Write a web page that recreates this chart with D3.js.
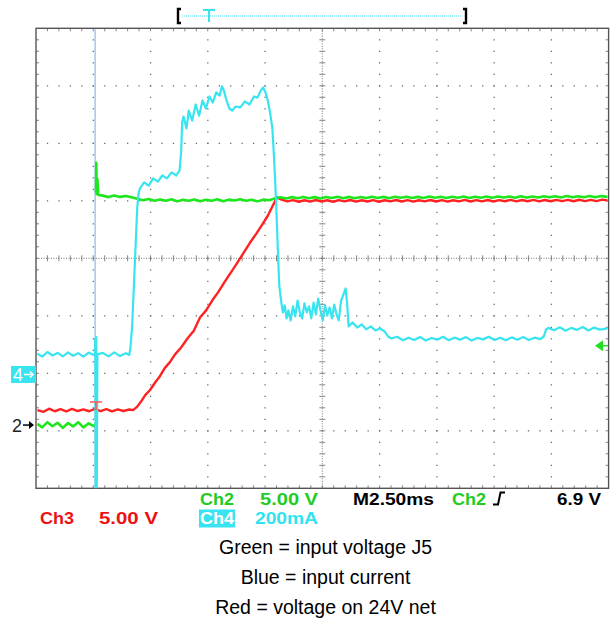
<!DOCTYPE html>
<html><head><meta charset="utf-8">
<script src="https://cdn.jsdelivr.net/npm/d3@7"></script>
<style>body{margin:0;background:#fff}svg{display:block}</style>
</head><body>
<svg id="c" width="613" height="623"></svg>
<script>
// ---------- data ----------
// time in ms relative to trigger; 2.5 ms/div
const msPerDiv = 2.5;
const timeLeft = -2.62;
// Ch2 (green) input voltage J5, volts (null = no samples displayed across the fast edge)
const ch2 = [[-2.56,0.1],[-2.35,-0.2],[-2.12,0.25],[-1.9,-0.1],[-1.68,0.2],[-1.45,-0.25],[-1.22,0.18],[-1.0,-0.12],[-0.78,0.25],[-0.55,-0.2],[-0.32,0.15],[-0.1,-0.1],[-0.02,0.1],[-0.01,null],[0.0,20.2],[0.01,22.8],[0.03,20.1],[0.06,21.4],[0.1,20.0],[0.3,19.95],[0.55,19.82],[0.8,19.96],[1.05,19.84],[1.3,19.92],[1.55,19.8],[1.8,19.68],[2.05,19.55],[2.3,19.66],[2.55,19.5],[2.8,19.62],[3.05,19.5],[3.3,19.64],[3.55,19.45],[3.8,19.6],[4.05,19.5],[4.3,19.62],[4.55,19.47],[4.8,19.6],[5.05,19.5],[5.3,19.63],[5.55,19.46],[5.8,19.6],[6.05,19.52],[6.3,19.64],[6.55,19.5],[6.8,19.6],[7.05,19.45],[7.3,19.6],[7.55,19.55],[7.8,19.7],[8.05,19.8],[8.3,19.7],[8.55,19.82],[8.8,19.72],[9.05,19.84],[9.3,19.72],[9.55,19.82],[9.8,19.7],[10.05,19.83],[10.3,19.74],[10.55,19.85],[10.8,19.73],[11.05,19.84],[11.3,19.72],[11.55,19.83],[11.8,19.74],[12.05,19.86],[12.3,19.75],[12.55,19.84],[12.8,19.73],[13.05,19.85],[13.3,19.76],[13.55,19.86],[13.8,19.74],[14.05,19.84],[14.3,19.75],[14.55,19.87],[14.8,19.76],[15.05,19.85],[15.3,19.74],[15.55,19.86],[15.8,19.77],[16.05,19.87],[16.3,19.75],[16.55,19.86],[16.8,19.77],[17.05,19.88],[17.3,19.76],[17.55,19.87],[17.8,19.78],[18.05,19.88],[18.3,19.77],[18.55,19.89],[18.8,19.78],[19.05,19.88],[19.3,19.79],[19.55,19.9],[19.8,19.8],[20.05,19.9],[20.3,19.79],[20.55,19.91],[20.8,19.8],[21.05,19.9],[21.3,19.81],[21.55,19.92],[21.8,19.8],[22.05,19.91],[22.36,19.84]];
// Ch3 (red) voltage on 24V net, volts
const ch3 = [[-2.56,1.3],[-2.3,1.15],[-2.05,1.42],[-1.8,1.2],[-1.55,1.38],[-1.3,1.18],[-1.05,1.4],[-0.8,1.22],[-0.55,1.36],[-0.3,1.2],[-0.05,1.4],[0.2,1.22],[0.45,1.38],[0.7,1.18],[0.95,1.36],[1.2,1.22],[1.45,1.35],[1.62,1.3],[1.8,1.6],[1.95,2.0],[2.15,2.6],[2.36,3.05],[2.58,3.7],[2.79,4.25],[3.0,4.95],[3.22,5.45],[3.45,6.15],[3.7,6.7],[4.0,7.55],[4.27,8.2],[4.54,9.35],[4.8,9.95],[5.08,10.85],[5.35,11.6],[5.63,12.5],[5.9,13.3],[6.18,14.15],[6.45,15.0],[6.72,15.85],[7.0,16.65],[7.25,17.4],[7.5,18.2],[7.7,19.0],[7.9,19.8],[8.1,19.6],[8.35,19.45],[8.6,19.56],[8.85,19.42],[9.1,19.55],[9.35,19.43],[9.6,19.57],[9.85,19.44],[10.1,19.55],[10.35,19.42],[10.6,19.56],[10.85,19.45],[11.1,19.57],[11.35,19.43],[11.6,19.55],[11.85,19.44],[12.1,19.56],[12.35,19.42],[12.6,19.55],[12.85,19.45],[13.1,19.57],[13.35,19.44],[13.6,19.56],[13.85,19.43],[14.1,19.55],[14.35,19.45],[14.6,19.57],[14.85,19.44],[15.1,19.56],[15.35,19.43],[15.6,19.55],[15.85,19.45],[16.1,19.58],[16.35,19.44],[16.6,19.56],[16.85,19.45],[17.1,19.57],[17.35,19.44],[17.6,19.56],[17.85,19.46],[18.1,19.58],[18.35,19.45],[18.6,19.57],[18.85,19.46],[19.1,19.58],[19.35,19.45],[19.6,19.57],[19.85,19.46],[20.1,19.58],[20.35,19.47],[20.6,19.58],[20.85,19.46],[21.1,19.59],[21.35,19.47],[21.6,19.58],[21.85,19.47],[22.1,19.6],[22.36,19.52]];
// Ch4 (cyan) input current, mA
const ch4 = [[-2.56,72],[-2.35,62],[-2.12,78],[-1.9,66],[-1.68,75],[-1.45,63],[-1.22,77],[-1.0,65],[-0.78,74],[-0.55,62],[-0.32,76],[-0.1,68],[-0.05,70],[-0.03,125],[-0.01,-450],[0.01,130],[0.03,-450],[0.06,70],[0.3,75],[0.55,63],[0.8,77],[1.05,64],[1.3,74],[1.45,68],[1.5,90],[1.58,170],[1.66,320],[1.74,470],[1.8,580],[1.86,630],[1.92,647],[2.1,668],[2.3,657],[2.5,682],[2.7,671],[2.9,692],[3.1,682],[3.3,703],[3.5,692],[3.65,710],[3.72,779],[3.76,876],[3.82,897],[3.95,856],[4.05,918],[4.2,883],[4.35,939],[4.5,900],[4.65,953],[4.8,925],[4.95,967],[5.1,946],[5.25,981],[5.4,970],[5.5,1002],[5.58,988],[5.7,953],[5.82,925],[5.95,918],[6.1,932],[6.3,929],[6.5,950],[6.7,939],[6.9,967],[7.05,963],[7.2,988],[7.3,998],[7.4,981],[7.5,953],[7.6,911],[7.7,856],[7.78,744],[7.86,605],[7.94,431],[8.0,310],[8.08,257],[8.16,216],[8.24,240],[8.32,195],[8.4,223],[8.5,188],[8.6,237],[8.7,202],[8.8,257],[8.9,216],[9.0,195],[9.1,247],[9.2,216],[9.3,237],[9.4,195],[9.5,250],[9.6,209],[9.7,264],[9.8,223],[9.9,188],[10.0,240],[10.1,205],[10.2,233],[10.3,195],[10.4,243],[10.5,209],[10.6,188],[10.7,257],[10.8,278],[10.9,299],[10.96,250],[11.03,167],[11.2,181],[11.4,163],[11.6,174],[11.8,157],[12.0,167],[12.2,153],[12.4,160],[12.6,150],[12.75,132],[12.9,125],[13.15,131],[13.4,119],[13.65,128],[13.9,120],[14.15,130],[14.4,118],[14.65,127],[14.9,121],[15.15,131],[15.4,119],[15.65,128],[15.9,121],[16.15,130],[16.4,118],[16.65,127],[16.9,122],[17.15,131],[17.4,120],[17.65,128],[17.9,119],[18.15,129],[18.4,121],[18.65,130],[18.9,120],[19.15,128],[19.4,123],[19.55,132],[19.65,157],[19.75,162],[20.0,154],[20.25,164],[20.5,152],[20.75,162],[21.0,155],[21.25,165],[21.5,153],[21.75,163],[22.0,156],[22.36,160]];
// channel settings: per-div value, ground position in divisions from screen centre
const ch2PerDiv = 5, ch2Ground = -2.9;
const ch3PerDiv = 5, ch3Ground = -2.9;
const ch4PerDiv = 200, ch4Ground = -2.02;
const trigLevel = 6.9; // V on Ch2
const readoutRow1 = [["Ch2","#22cc22"],["5.00 V","#22cc22"],["M2.50ms","#000"],["Ch2","#22cc22"],["6.9 V","#000"]];
const readoutRow2 = [["Ch3","#ee1111"],["5.00 V","#ee1111"],["Ch4","#fff"],["200mA","#2fe3f0"]];
const captions = ["Green = input voltage J5","Blue = input current","Red = voltage on 24V net"];

// ---------- layout ----------
const P = {x0:36, x1:608.6, y0:28.3, y1:488.3};
const nX = 10, nY = 8, sub = 5;
const svg = d3.select("#c");
const x = d3.scaleLinear().domain([timeLeft, timeLeft + nX*msPerDiv]).range([P.x0, P.x1]);
const gx = d3.scaleLinear().domain([0, nX]).range([P.x0, P.x1]);
const gy = d3.scaleLinear().domain([0, nY]).range([P.y0, P.y1]);
function chScale(perDiv, ground){
  return d3.scaleLinear().domain([(-nY/2-ground)*perDiv, (nY/2-ground)*perDiv]).range([P.y1, P.y0]);
}
const y2 = chScale(ch2PerDiv, ch2Ground), y3 = chScale(ch3PerDiv, ch3Ground), y4 = chScale(ch4PerDiv, ch4Ground);

// ---------- graticule ----------
const g = svg.append("g");
const dotCol = "#6e6e6e";
for (let i=1;i<nX;i++){ if (i===nX/2) continue;
  for (let j=1;j<nY*sub;j++) g.append("rect").attr("x",gx(i)-0.6).attr("y",gy(j/sub)-0.6).attr("width",1.3).attr("height",1.3).attr("fill",dotCol);
}
for (let j=1;j<nY;j++){ if (j===nY/2) continue;
  for (let i=1;i<nX*sub;i++) g.append("rect").attr("x",gx(i/sub)-0.6).attr("y",gy(j)-0.6).attr("width",1.3).attr("height",1.3).attr("fill",dotCol);
}
g.append("line").attr("x1",P.x0).attr("x2",P.x1).attr("y1",gy(nY/2)).attr("y2",gy(nY/2)).attr("stroke","#777").attr("stroke-dasharray","1,1.5");
g.append("line").attr("y1",P.y0).attr("y2",P.y1).attr("x1",gx(nX/2)).attr("x2",gx(nX/2)).attr("stroke","#777").attr("stroke-dasharray","1,1.5");
for (let i=1;i<nX*sub;i++){
  const xx = gx(i/sub);
  g.append("line").attr("x1",xx).attr("x2",xx).attr("y1",gy(nY/2)-3).attr("y2",gy(nY/2)+3).attr("stroke","#777").attr("stroke-width",0.9);
  g.append("line").attr("x1",xx).attr("x2",xx).attr("y1",P.y0).attr("y2",P.y0+3).attr("stroke","#777").attr("stroke-width",0.9);
  g.append("line").attr("x1",xx).attr("x2",xx).attr("y1",P.y1).attr("y2",P.y1-3).attr("stroke","#777").attr("stroke-width",0.9);
}
for (let j=1;j<nY*sub;j++){
  const yy = gy(j/sub);
  g.append("line").attr("y1",yy).attr("y2",yy).attr("x1",gx(nX/2)-3).attr("x2",gx(nX/2)+3).attr("stroke","#777").attr("stroke-width",0.9);
  g.append("line").attr("y1",yy).attr("y2",yy).attr("x1",P.x0).attr("x2",P.x0+3).attr("stroke","#777").attr("stroke-width",0.9);
  g.append("line").attr("y1",yy).attr("y2",yy).attr("x1",P.x1).attr("x2",P.x1-3).attr("stroke","#777").attr("stroke-width",0.9);
}
g.append("rect").attr("x",P.x0).attr("y",P.y0).attr("width",P.x1-P.x0).attr("height",P.y1-P.y0).attr("fill","none").attr("stroke","#555").attr("stroke-width",1.4);

// ---------- traces ----------
svg.append("clipPath").attr("id","clip").append("rect").attr("x",P.x0+1).attr("y",P.y0+1).attr("width",P.x1-P.x0-2).attr("height",P.y1-P.y0-1);
const tr = svg.append("g").attr("clip-path","url(#clip)");
tr.append("line").attr("x1",x(-0.04)).attr("x2",x(-0.04)).attr("y1",P.y0).attr("y2",P.y1).attr("stroke","#8fb6ea").attr("stroke-width",1.2);
function drawTrace(data, ys, col, w){
  tr.append("path").datum(data).attr("fill","none").attr("stroke",col).attr("stroke-width",w).attr("stroke-linejoin","round")
    .attr("d", d3.line().defined(d=>d[1]!==null).x(d=>x(d[0])).y(d=>ys(d[1])));
}
drawTrace(ch3, y3, "#ff2222", 2.4);
drawTrace(ch2, y2, "#1ee61e", 2.6);
drawTrace(ch4, y4, "#38e4f0", 2.2);
const tx = x(0), ty = y3(2.0);
tr.append("path").attr("d",`M${tx-6},${ty} L${tx+6},${ty} M${tx},${ty} L${tx},${ty+8}`).attr("stroke","#ff5555").attr("stroke-width",1.6).attr("fill","none");

// ---------- markers ----------
const m4 = y4(0);
svg.append("rect").attr("x",11).attr("y",m4-8.5).attr("width",25).attr("height",17).attr("fill","#38e4f0");
svg.append("text").attr("x",13).attr("y",m4+6.5).attr("font-family","Liberation Sans, Arial, sans-serif").attr("font-size",18).attr("fill","#fff").text("4");
svg.append("path").attr("d",`M24,${m4} L33,${m4} M30,${m4-3} L33,${m4} L30,${m4+3}`).attr("stroke","#fff").attr("stroke-width",1.5).attr("fill","none");
const m2 = y2(0);
svg.append("text").attr("x",12).attr("y",m2+6.5).attr("font-family","Liberation Sans, Arial, sans-serif").attr("font-size",18).attr("fill","#222").text("2");
svg.append("path").attr("d",`M23,${m2} L33,${m2}`).attr("stroke","#000").attr("stroke-width",1.5);
svg.append("path").attr("d",`M29,${m2-4} L34,${m2} L29,${m2+4} Z`).attr("fill","#000");
const tl = y2(trigLevel);
svg.append("path").attr("d",`M595,${tl} L603,${tl-5.5} L603,${tl+5.5} Z`).attr("fill","#22dd22");
svg.append("line").attr("x1",602).attr("x2",608).attr("y1",tl).attr("y2",tl).attr("stroke","#22dd22").attr("stroke-width",1.5);

svg.append("path").attr("d","M181,9 L178,9 L178,23 L181,23").attr("stroke","#000").attr("stroke-width",2.4).attr("fill","none");
svg.append("path").attr("d","M463,9 L466,9 L466,23 L463,23").attr("stroke","#000").attr("stroke-width",2.4).attr("fill","none");
svg.append("line").attr("x1",182).attr("x2",462).attr("y1",16).attr("y2",16).attr("stroke","#38e4f0").attr("stroke-width",1.2).attr("stroke-dasharray","1,1");
svg.append("path").attr("d","M203,10 L215,10 M209,10 L209,22").attr("stroke","#38e4f0").attr("stroke-width",2).attr("fill","none");

// ---------- readouts ----------
const font = "Liberation Sans, Arial, sans-serif";
function rtext(xp, yp, s, col, len){
  svg.append("text").attr("x",xp).attr("y",yp).attr("font-family",font).attr("font-size",17).attr("font-weight","bold")
    .attr("fill",col).attr("textLength",len).attr("lengthAdjust","spacingAndGlyphs").text(s);
}
const row1X = [[200,34],[260,58],[353,81],[452,34],[557,44]];
readoutRow1.forEach((d,i)=>rtext(row1X[i][0], 505, d[0], d[1], row1X[i][1]));
svg.append("path").attr("d","M493,504.5 L498,504.5 L500.5,492.5 L505,492.5").attr("stroke","#000").attr("stroke-width",2).attr("fill","none");
svg.append("rect").attr("x",199).attr("y",509.5).attr("width",36).attr("height",18).attr("fill","#38e4f0");
const row2X = [[40,34],[99,59],[200,34],[255,63]];
readoutRow2.forEach((d,i)=>rtext(row2X[i][0], 524, d[0], d[1], row2X[i][1]));

// ---------- captions ----------
captions.forEach((c,i)=>{
  svg.append("text").attr("x",325.5).attr("y",554+i*30).attr("text-anchor","middle").attr("font-family",font)
    .attr("font-size",19.5).attr("fill","#000").text(c);
});
</script>
</body></html>
